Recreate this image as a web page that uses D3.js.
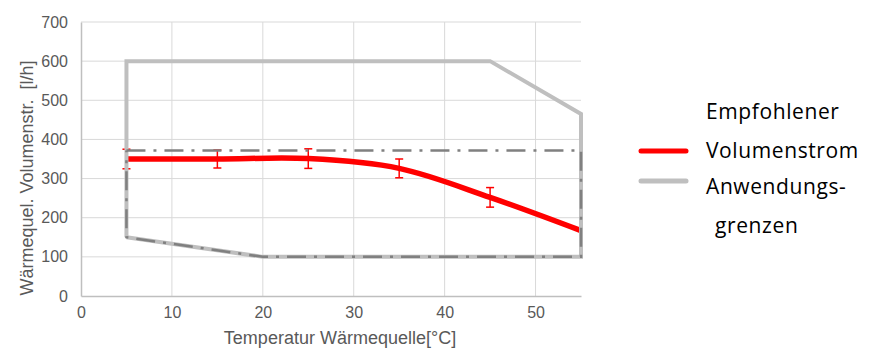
<!DOCTYPE html>
<html lang="de">
<head>
<meta charset="utf-8">
<title>Volumenstrom</title>
<style>
  body { margin: 0; background: #fff; }
  .tick text { font-family: "Liberation Sans", Arial, sans-serif; font-size: 16px; fill: #595959; }
</style>
</head>
<body>
<svg width="880" height="349"></svg>
<script src="https://d3js.org/d3.v7.min.js"></script>
<script>
  // Empfohlener Volumenstrom (mit Fehlerbalken)
  var tempVals = [5, 15, 25, 35, 45, 55];
  var flowVals = [350, 350, 351, 326, 252, 167];
  var errTemps = [5, 15, 25, 35, 45];
  var errVals = [25, 23, 25, 24, 25];

  // Anwendungsgrenzen (hellgrau)
  var limitT = [5, 5, 45, 55, 55, 20, 5];
  var limitV = [150, 600, 600, 465, 100, 100, 150];

  // Strichpunkt-Grenze (dunkelgrau)
  var dashT = [5, 55, 55, 20, 5, 5];
  var dashV = [372, 372, 100, 100, 150, 372];

  var xTicks = [0, 10, 20, 30, 40, 50];
  var yTicks = [0, 100, 200, 300, 400, 500, 600, 700];

  var legendLabels = ["Empfohlener", "Volumenstrom", "Anwendungs-", "grenzen"];

  var svg = d3.select("svg"),
      margin = {top: 22, left: 81},
      width = 500,
      height = 274;

  var x = d3.scaleLinear().domain([0, 55]).range([0, width]),
      y = d3.scaleLinear().domain([0, 700]).range([height, 0]);

  var g = svg.append("g")
    .attr("transform", "translate(" + margin.left + "," + margin.top + ")");

  // gridlines
  g.append("g").selectAll("line").data(yTicks.slice(1)).enter().append("line")
    .attr("x1", 0).attr("x2", width)
    .attr("y1", function(d) { return y(d); }).attr("y2", function(d) { return y(d); })
    .attr("stroke", "#d9d9d9").attr("stroke-width", 1);
  g.append("g").selectAll("line").data(xTicks.slice(1)).enter().append("line")
    .attr("y1", 0).attr("y2", height)
    .attr("x1", function(d) { return x(d); }).attr("x2", function(d) { return x(d); })
    .attr("stroke", "#d9d9d9").attr("stroke-width", 1);

  // axes
  var xAxis = g.append("g")
    .attr("transform", "translate(0," + height + ")")
    .call(d3.axisBottom(x).tickValues(xTicks).tickSize(0).tickPadding(11));
  xAxis.select(".domain").attr("stroke", "#bfbfbf").attr("stroke-width", 1.5);

  var yAxis = g.append("g")
    .call(d3.axisLeft(y).tickValues(yTicks).tickSize(0).tickPadding(13));
  yAxis.select(".domain").attr("stroke", "#bfbfbf").attr("stroke-width", 1.5);

  // red smoothed line
  var flowData = tempVals.map(function(t, i) { return [t, flowVals[i]]; });
  g.append("path")
    .datum(flowData)
    .attr("fill", "none")
    .attr("stroke", "#ff0000")
    .attr("stroke-width", 5.5)
    .attr("d", d3.line()
      .x(function(d) { return x(d[0]); })
      .y(function(d) { return y(d[1]); })
      .curve(d3.curveCardinal.tension(0)));

  // error bars
  var errData = errTemps.map(function(t, i) {
    var j = tempVals.indexOf(t);
    return {t: t, v: flowVals[j], e: errVals[i]};
  });
  var eb = g.append("g").selectAll("g").data(errData).enter().append("g")
    .attr("stroke", "#ff0000").attr("stroke-width", 1.5);
  eb.append("line")
    .attr("x1", function(d) { return x(d.t); }).attr("x2", function(d) { return x(d.t); })
    .attr("y1", function(d) { return y(d.v + d.e); }).attr("y2", function(d) { return y(d.v - d.e); });
  eb.append("line")
    .attr("x1", function(d) { return x(d.t) - 4; }).attr("x2", function(d) { return x(d.t) + 4; })
    .attr("y1", function(d) { return y(d.v + d.e); }).attr("y2", function(d) { return y(d.v + d.e); });
  eb.append("line")
    .attr("x1", function(d) { return x(d.t) - 4; }).attr("x2", function(d) { return x(d.t) + 4; })
    .attr("y1", function(d) { return y(d.v - d.e); }).attr("y2", function(d) { return y(d.v - d.e); });

  var lin = d3.line()
    .x(function(d) { return x(d[0]); })
    .y(function(d) { return y(d[1]); });

  // light gray limits
  g.append("path")
    .datum(limitT.map(function(t, i) { return [t, limitV[i]]; }))
    .attr("fill", "none")
    .attr("stroke", "#bfbfbf")
    .attr("stroke-width", 4)
    .attr("stroke-linejoin", "miter")
    .attr("d", lin);

  // dark dash-dot limits
  g.append("path")
    .datum(dashT.map(function(t, i) { return [t, dashV[i]]; }))
    .attr("fill", "none")
    .attr("stroke", "#808080")
    .attr("stroke-width", 2.5)
    .attr("stroke-dasharray", "19,8,3,8")
    .attr("d", lin);

  // axis titles
  svg.append("text")
    .attr("x", 340).attr("y", 344)
    .attr("text-anchor", "middle")
    .style("font-family", "Liberation Sans, Arial, sans-serif")
    .style("font-size", "18px").style("fill", "#595959")
    .text("Temperatur Wärmequelle[°C]");
  svg.append("text")
    .attr("transform", "translate(33,178) rotate(-90)")
    .attr("text-anchor", "middle")
    .style("font-family", "Liberation Sans, Arial, sans-serif")
    .style("font-size", "18px").style("fill", "#595959")
    .style("white-space", "pre")
    .text("Wärmequel. Volumenstr.  [l/h]");

  // legend
  var leg = svg.append("g");
  leg.append("line").attr("x1", 641).attr("x2", 686).attr("y1", 151).attr("y2", 151)
    .attr("stroke", "#ff0000").attr("stroke-width", 5).attr("stroke-linecap", "round");
  leg.append("line").attr("x1", 641).attr("x2", 686).attr("y1", 181).attr("y2", 181)
    .attr("stroke", "#bfbfbf").attr("stroke-width", 5).attr("stroke-linecap", "round");
  var legY = [119, 158, 194, 233],
      legX = [706, 706, 706, 715];
  leg.selectAll("text").data(legendLabels).enter().append("text")
    .attr("x", function(d, i) { return legX[i]; })
    .attr("y", function(d, i) { return legY[i]; })
    .style("font-family", "Open Sans, sans-serif")
    .style("font-size", "21px").style("letter-spacing", "0.6px").style("fill", "#000")
    .text(function(d) { return d; });
</script>
</body>
</html>
